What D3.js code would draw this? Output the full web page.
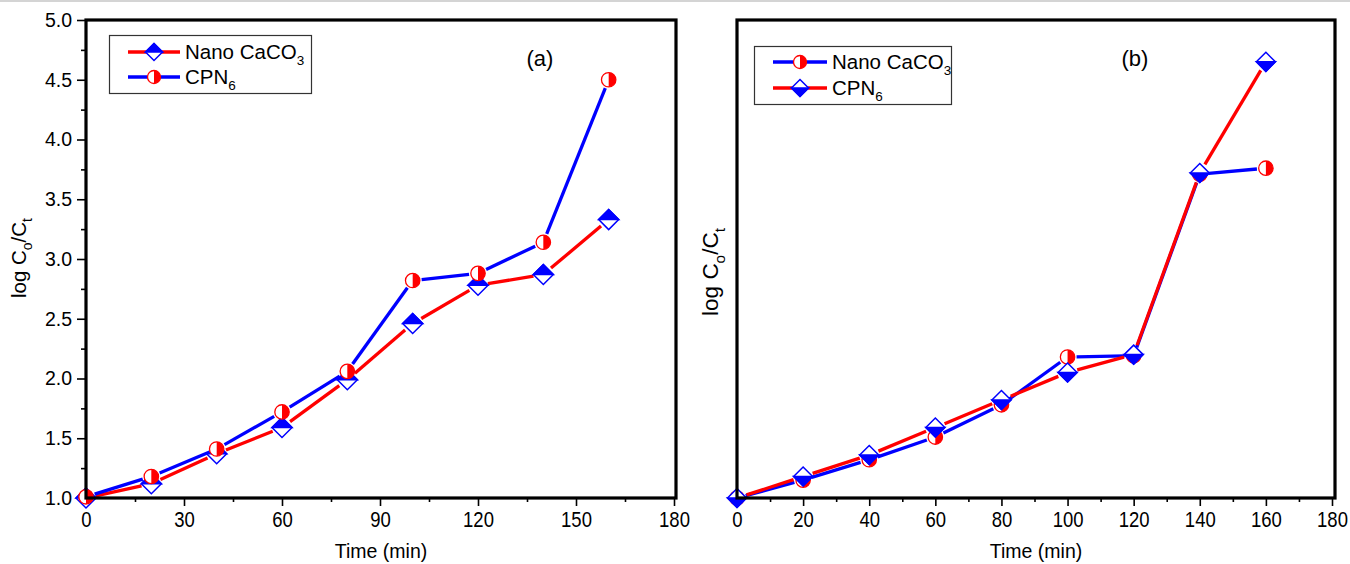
<!DOCTYPE html>
<html><head><meta charset="utf-8">
<script src="https://cdn.jsdelivr.net/npm/d3@7"></script>
<style>
body{margin:0;background:#fff}
svg{display:block}
text{font-family:"Liberation Sans",Arial,Helvetica,sans-serif;fill:#000}
</style>
</head><body>
<svg id="c" width="1350" height="564"></svg>
<script>
// ---------- data ----------
const timeA = [0, 20, 40, 60, 80, 100, 120, 140, 160];
const nanoA = [1.00, 1.12, 1.37, 1.59, 1.99, 2.46, 2.78, 2.87, 3.33];
const cpnA  = [1.01, 1.18, 1.41, 1.72, 2.06, 2.82, 2.88, 3.14, 4.50];

const timeB = [0, 20, 40, 60, 80, 100, 120, 140, 160];
const nanoB = [1.00, 1.15, 1.32, 1.51, 1.78, 2.18, 2.19, 3.71, 3.76];
const cpnB  = [1.00, 1.18, 1.36, 1.59, 1.82, 2.05, 2.20, 3.72, 4.65];

const xTicksA = [0, 30, 60, 90, 120, 150, 180];
const xMinorA = [15, 45, 75, 105, 135, 165];
const xTicksB = [0, 20, 40, 60, 80, 100, 120, 140, 160, 180];
const xMinorB = [10, 30, 50, 70, 90, 110, 130, 150, 170];
const yTicksA = [1.0, 1.5, 2.0, 2.5, 3.0, 3.5, 4.0, 4.5, 5.0];
const yMinorA = [1.25, 1.75, 2.25, 2.75, 3.25, 3.75, 4.25, 4.75];

const seriesNames = ["Nano CaCO", "CPN"];
const seriesSubs = ["3", "6"];
const RED = "#ff0000", BLUE = "#0000ff";

const svg = d3.select("#c");
svg.append("line").attr("x1",0).attr("x2",1350).attr("y1",1).attr("y2",1)
  .attr("stroke","#d4d4d4").attr("stroke-width",2);

function halfCircle(g, cx, cy, r) {
  g.append("circle").attr("cx",cx).attr("cy",cy).attr("r",r)
    .attr("fill","#fff").attr("stroke",RED).attr("stroke-width",1.3);
  g.append("path").attr("d",`M${cx},${cy-r} A${r},${r} 0 0 1 ${cx},${cy+r} Z`)
    .attr("fill",RED);
}
function halfDiamond(g, cx, cy, h, side) {
  g.append("path").attr("d",`M${cx},${cy-h} L${cx+h},${cy} L${cx},${cy+h} L${cx-h},${cy} Z`)
    .attr("fill","#fff").attr("stroke",BLUE).attr("stroke-width",1.5);
  const s = side === "top" ? -h : h;
  g.append("path").attr("d",`M${cx-h},${cy} L${cx},${cy+s} L${cx+h},${cy} Z`)
    .attr("fill",BLUE).attr("stroke",BLUE).attr("stroke-width",1.5);
}
function gappedLine(g, xs, ys, x, y, color, gap) {
  for (let i = 0; i < xs.length - 1; i++) {
    const x0 = x(xs[i]), y0 = y(ys[i]), x1 = x(xs[i+1]), y1 = y(ys[i+1]);
    const d = Math.hypot(x1-x0, y1-y0);
    if (d <= 2*gap) continue;
    const ux = (x1-x0)/d, uy = (y1-y0)/d;
    g.append("line")
      .attr("x1", x0+ux*gap).attr("y1", y0+uy*gap)
      .attr("x2", x1-ux*gap).attr("y2", y1-uy*gap)
      .attr("stroke", color).attr("stroke-width", 3.3);
  }
}
function legendEntry(g, x0, x1, y, lineColor, marker, name, sub) {
  g.append("line").attr("x1",x0).attr("x2",x1).attr("y1",y).attr("y2",y)
    .attr("stroke",lineColor).attr("stroke-width",3.3);
  marker((x0+x1)/2, y);
  const t = g.append("text").attr("x",x1+5).attr("y",y+7).attr("font-size",20.5);
  t.append("tspan").text(name);
  t.append("tspan").attr("font-size",13.5).attr("dy",6).text(sub);
}
function yLabel(g, x, y, size) {
  const t = g.append("text").attr("transform",`translate(${x},${y}) rotate(-90)`)
    .attr("text-anchor","middle").attr("font-size",size);
  t.append("tspan").text("log C");
  t.append("tspan").attr("font-size",size*0.68).attr("dy",size*0.3).text("o");
  t.append("tspan").attr("dy",-size*0.3).text("/C");
  t.append("tspan").attr("font-size",size*0.68).attr("dy",size*0.3).text("t");
}
function xAxes(g, x, y0, majors, minors) {
  const ax = g.append("g").attr("transform",`translate(0,${y0})`)
    .call(d3.axisBottom(x).tickValues(majors).tickSize(8).tickSizeOuter(0).tickPadding(4).tickFormat(d3.format("d")));
  ax.select(".domain").remove();
  ax.selectAll(".tick line").attr("stroke-width",1.6);
  ax.selectAll(".tick text").attr("font-size",18.5).attr("font-family","Liberation Sans, Arial, sans-serif")
    .attr("transform","scale(1,1.22)").attr("dy","0.62em");
  const mn = g.append("g").attr("transform",`translate(0,${y0})`)
    .call(d3.axisBottom(x).tickValues(minors).tickSize(4).tickSizeOuter(0).tickFormat(""));
  mn.select(".domain").remove();
  mn.selectAll(".tick line").attr("stroke-width",1.6);
}

// ---------- panel (a) ----------
const xa = d3.scaleLinear().domain([0,180]).range([86,674]);
const ya = d3.scaleLinear().domain([1,5]).range([498,20]);
const ga = svg.append("g");

xAxes(ga, xa, 498, xTicksA, xMinorA);
const yaxA = ga.append("g").attr("transform","translate(86,0)")
  .call(d3.axisLeft(ya).tickValues(yTicksA).tickSize(9).tickSizeOuter(0).tickPadding(5).tickFormat(d3.format(".1f")));
yaxA.select(".domain").remove();
yaxA.selectAll(".tick line").attr("stroke-width",1.6);
yaxA.selectAll(".tick text").attr("font-size",19.5).attr("font-family","Liberation Sans, Arial, sans-serif");
const yminA = ga.append("g").attr("transform","translate(86,0)")
  .call(d3.axisLeft(ya).tickValues(yMinorA).tickSize(5).tickSizeOuter(0).tickFormat(""));
yminA.select(".domain").remove();
yminA.selectAll(".tick line").attr("stroke-width",1.6);

gappedLine(ga, timeA, nanoA, xa, ya, RED, 10);
gappedLine(ga, timeA, cpnA, xa, ya, BLUE, 9);
timeA.forEach((t,i) => halfDiamond(ga, xa(t), ya(nanoA[i]), 10, "top"));
timeA.forEach((t,i) => halfCircle(ga, xa(t), ya(cpnA[i]), 7.2));

ga.append("rect").attr("x",86).attr("y",20).attr("width",674-86+2).attr("height",478)
  .attr("fill","none").attr("stroke","#000").attr("stroke-width",3.2);

const lgA = ga.append("g");
lgA.append("rect").attr("x",109.5).attr("y",35.5).attr("width",202).attr("height",58)
  .attr("fill","#fff").attr("stroke","#333").attr("stroke-width",1.2);
legendEntry(lgA, 128, 180, 52, RED, (cx,cy)=>halfDiamond(lgA,cx,cy,8.5,"top"), seriesNames[0], seriesSubs[0]);
legendEntry(lgA, 128, 180, 77, BLUE, (cx,cy)=>halfCircle(lgA,cx,cy,6.5), seriesNames[1], seriesSubs[1]);

ga.append("text").attr("x",540).attr("y",66).attr("text-anchor","middle").attr("font-size",22).text("(a)");
ga.append("text").attr("x",381).attr("y",558).attr("text-anchor","middle").attr("font-size",19.5).text("Time (min)");
yLabel(ga, 26, 258, 20.5);

// ---------- panel (b) ----------
const xb = d3.scaleLinear().domain([0,180]).range([737,1332]);
const yb = d3.scaleLinear().domain([1,5]).range([498,20]);
const gb = svg.append("g");

xAxes(gb, xb, 498, xTicksB, xMinorB);

gappedLine(gb, timeB, nanoB, xb, yb, BLUE, 9);
gappedLine(gb, timeB, cpnB, xb, yb, RED, 10);
timeB.forEach((t,i) => halfCircle(gb, xb(t), yb(nanoB[i]), 7.2));
timeB.forEach((t,i) => halfDiamond(gb, xb(t), yb(cpnB[i]), 9.5, "bottom"));

gb.append("rect").attr("x",737).attr("y",20).attr("width",1335-737).attr("height",478)
  .attr("fill","none").attr("stroke","#000").attr("stroke-width",3.2);

const lgB = gb.append("g");
lgB.append("rect").attr("x",754.5).attr("y",46.5).attr("width",197).attr("height",58)
  .attr("fill","#fff").attr("stroke","#333").attr("stroke-width",1.2);
legendEntry(lgB, 773, 827, 62, BLUE, (cx,cy)=>halfCircle(lgB,cx,cy,6.5), seriesNames[0], seriesSubs[0]);
legendEntry(lgB, 773, 827, 88, RED, (cx,cy)=>halfDiamond(lgB,cx,cy,8.5,"bottom"), seriesNames[1], seriesSubs[1]);

gb.append("text").attr("x",1135).attr("y",66).attr("text-anchor","middle").attr("font-size",22).text("(b)");
gb.append("text").attr("x",1036).attr("y",558).attr("text-anchor","middle").attr("font-size",19.5).text("Time (min)");
yLabel(gb, 718, 272, 22.5);
</script>
</body></html>
